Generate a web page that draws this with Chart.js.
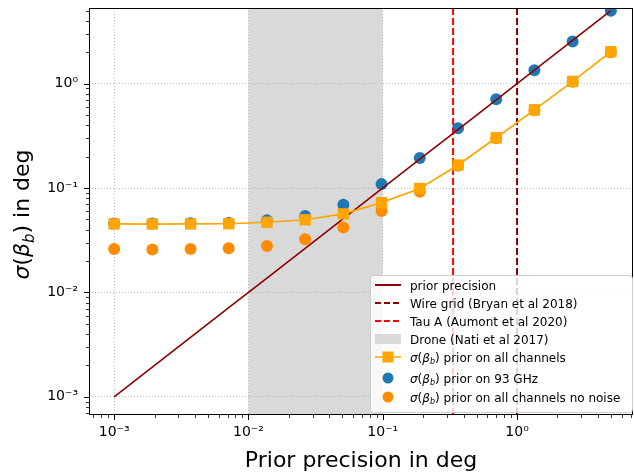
<!DOCTYPE html>
<html>
<head>
<meta charset="UTF-8">
<title>Prior precision</title>
<script src="https://cdn.jsdelivr.net/npm/chart.js"></script>
<style>
    html, body { margin: 0; padding: 0; background: white; }
    .wrap { width: 634px; height: 472px; }
</style>
</head>
<body>
<div class="wrap"><canvas id="c"></canvas></div>
<script>
// values
const priorPrecision = [0.001, 0.001925, 0.003706, 0.007135, 0.01374, 0.02645, 0.05092, 0.09803, 0.1887, 0.3634, 0.6996, 1.347, 2.593, 4.993];
const sigmaAll = [0.0453, 0.0452, 0.0453, 0.0455, 0.047, 0.0497, 0.0565, 0.0724, 0.099, 0.166, 0.303, 0.561, 1.05, 2.02];
const sigma93 = [0.0458, 0.0458, 0.0459, 0.0462, 0.049, 0.054, 0.069, 0.109, 0.194, 0.374, 0.708, 1.34, 2.53, 4.98];
const sigmaNoNoise = [0.026, 0.0258, 0.026, 0.0265, 0.0279, 0.0323, 0.0418, 0.0603, 0.092, 0.163, 0.300, 0.555, 1.04, 2.0];
const wireGrid = 1.0;
const tauA = 0.334;
const droneRange = [0.01, 0.1];
const xRange = [6.5e-4, 7.3];
const yRange = [6.7e-4, 5.3];

const FONT = '"DejaVu Sans"';
const supMap = {'-': '\u207B', '0': '\u2070', '1': '\u00B9', '2': '\u00B2', '3': '\u00B3'};
function powLabel(v) {
    const e = Math.round(Math.log10(v));
    return '10' + String(e).split('').map(c => supMap[c] || c).join('');
}

function logTicks(min, max) {
    const out = [];
    for (let e = Math.floor(Math.log10(min)); e <= Math.ceil(Math.log10(max)); e++) {
        for (let m = 1; m < 10; m++) {
            const v = m * Math.pow(10, e);
            if (v >= min && v <= max) out.push({ value: v, major: m === 1 });
        }
    }
    return out;
}

function pts(xs, ys) { return xs.map((x, i) => ({ x: x, y: ys[i] })); }

// sigma(beta_b) in mathtext style, returns width
function drawSigma(ctx, x, y, size, measureOnly) {
    const parts = [
        ['\u03C3', 'italic ' + size + 'px ' + FONT, 0],
        ['(', size + 'px ' + FONT, 0],
        ['\u03B2', 'italic ' + size + 'px ' + FONT, 0],
        ['b', 'italic ' + Math.round(size * 0.7) + 'px ' + FONT, size * 0.22],
        [')', size + 'px ' + FONT, 0]
    ];
    let w = 0;
    parts.forEach(p => {
        ctx.font = p[1];
        if (!measureOnly) ctx.fillText(p[0], x + w, y + p[2]);
        w += ctx.measureText(p[0]).width;
    });
    return w;
}

const legendItems = [
    { kind: 'line', color: '#8b0000', dash: [], text: 'prior precision' },
    { kind: 'line', color: '#8b0000', dash: [6, 3], text: 'Wire grid (Bryan et al 2018)' },
    { kind: 'line', color: '#ff0000', dash: [6, 3], text: 'Tau A (Aumont et al 2020)' },
    { kind: 'patch', color: '#d9d9d9', text: 'Drone (Nati et al 2017)' },
    { kind: 'square', color: '#ffa500', math: true, text: ' prior on all channels' },
    { kind: 'dot', color: '#1f77b4', math: true, text: ' prior on 93 GHz' },
    { kind: 'dot', color: '#ff8c00', math: true, text: ' prior on all channels no noise' }
];
const legendRows = [285, 303, 321, 339, 357, 378, 397];

const extras = {
    id: 'extras',
    beforeDraw(chart) {
        const ctx = chart.ctx, a = chart.chartArea, xs = chart.scales.x;
        ctx.save();
        ctx.fillStyle = '#d9d9d9';
        const x0 = xs.getPixelForValue(droneRange[0]), x1 = xs.getPixelForValue(droneRange[1]);
        ctx.fillRect(x0, a.top, x1 - x0, a.bottom - a.top);
        ctx.restore();
    },
    afterDatasetsDraw(chart) {
        const ctx = chart.ctx, a = chart.chartArea;
        const xs = chart.scales.x, ys = chart.scales.y;
        ctx.save();
        // spines
        ctx.strokeStyle = '#000';
        ctx.lineWidth = 1;
        ctx.strokeRect(a.left + 0.5, a.top + 0.5, a.right - a.left - 1, a.bottom - a.top - 1);
        // tick marks
        xs.ticks.forEach(t => {
            const px = Math.round(xs.getPixelForValue(t.value)) + 0.5;
            ctx.beginPath();
            ctx.moveTo(px, a.bottom);
            ctx.lineTo(px, a.bottom + (t.major ? 5 : 3));
            ctx.lineWidth = t.major ? 1 : 0.8;
            ctx.stroke();
        });
        ys.ticks.forEach(t => {
            const py = Math.round(ys.getPixelForValue(t.value)) + 0.5;
            ctx.beginPath();
            ctx.moveTo(a.left, py);
            ctx.lineTo(a.left - (t.major ? 5 : 3), py);
            ctx.lineWidth = t.major ? 1 : 0.8;
            ctx.stroke();
        });

        // axis titles
        ctx.fillStyle = '#000';
        ctx.textBaseline = 'alphabetic';
        ctx.font = '22px ' + FONT;
        ctx.textAlign = 'center';
        ctx.fillText('Prior precision in deg', (a.left + a.right) / 2, 467);
        ctx.textAlign = 'left';
        ctx.save();
        ctx.translate(29, (a.top + a.bottom) / 2 + 3);
        ctx.rotate(-Math.PI / 2);
        const sw = drawSigma(ctx, 0, 0, 22, true);
        ctx.font = '22px ' + FONT;
        const tw = ctx.measureText(' in deg').width;
        const start = -(sw + tw) / 2;
        drawSigma(ctx, start, 0, 22, false);
        ctx.font = '22px ' + FONT;
        ctx.fillText(' in deg', start + sw, 0);
        ctx.restore();

        // legend
        const bx = 370, by = 275, bw = 262, bh = 137;
        ctx.beginPath();
        ctx.roundRect(bx + 0.5, by + 0.5, bw, bh, 3);
        ctx.fillStyle = 'rgba(255,255,255,0.8)';
        ctx.fill();
        ctx.strokeStyle = '#cccccc';
        ctx.lineWidth = 1;
        ctx.stroke();
        legendItems.forEach((it, i) => {
            const cy = legendRows[i];
            const hx0 = 375, hx1 = 401, hc = (hx0 + hx1) / 2;
            ctx.save();
            if (it.kind === 'line' || it.kind === 'square') {
                ctx.strokeStyle = it.color;
                ctx.lineWidth = it.kind === 'square' ? 1.5 : 2;
                ctx.setLineDash(it.dash || []);
                ctx.beginPath();
                ctx.moveTo(hx0, cy);
                ctx.lineTo(hx1, cy);
                ctx.stroke();
                if (it.kind === 'square') {
                    ctx.fillStyle = it.color;
                    ctx.fillRect(hc - 5.5, cy - 5.5, 11, 11);
                }
            } else if (it.kind === 'patch') {
                ctx.fillStyle = it.color;
                ctx.fillRect(hx0, cy - 5, hx1 - hx0, 10);
            } else {
                ctx.fillStyle = it.color;
                ctx.beginPath();
                ctx.arc(hc, cy, 5.5, 0, Math.PI * 2);
                ctx.fill();
            }
            ctx.restore();
            ctx.fillStyle = '#000';
            ctx.textAlign = 'left';
            let tx = 410;
            const base = cy + 4.5;
            if (it.math) tx += drawSigma(ctx, tx, base, 12, false);
            ctx.font = '12px ' + FONT;
            ctx.fillText(it.text, tx, base);
        });
        ctx.restore();
    }
};

function noPad(s) {
    s.paddingTop = 0; s.paddingBottom = 0; s.paddingLeft = 0; s.paddingRight = 0;
}

function axisCommon(range, fitFn) {
    return {
        type: 'logarithmic',
        min: range[0],
        max: range[1],
        afterBuildTicks: s => { s.ticks = logTicks(range[0], range[1]); },
        afterFit: s => { fitFn(s); noPad(s); },
        grid: {
            drawTicks: false,
            lineWidth: 0.8,
            color: c => (c.tick && c.tick.major) ? '#b0b0b0' : 'rgba(0,0,0,0)'
        },
        border: { display: false, dash: [1, 2] },
        ticks: {
            autoSkip: false,
            maxRotation: 0,
            color: '#000',
            font: { family: 'DejaVu Sans', size: 14 },
            callback: (v, i, ticks) => ticks[i].major ? powLabel(v) : ''
        }
    };
}

const xAxis = axisCommon(xRange, s => { s.height = 57; });
xAxis.ticks.padding = 9;
const yAxis = axisCommon(yRange, s => { s.width = 89; });
yAxis.ticks.padding = 11;

new Chart(document.getElementById('c'), {
    type: 'line',
    data: {
        datasets: [
            {
                label: 'sigma prior on all channels',
                data: pts(priorPrecision, sigmaAll),
                borderColor: '#ffa500', backgroundColor: '#ffa500',
                borderWidth: 1.7, pointStyle: 'rect', pointRadius: 8, pointBorderWidth: 0,
                order: 1
            },
            {
                label: 'prior precision',
                data: pts(priorPrecision, priorPrecision),
                borderColor: '#8b0000', borderWidth: 1.6, pointRadius: 0,
                order: 2
            },
            {
                label: 'Wire grid (Bryan et al 2018)',
                data: [{ x: wireGrid, y: yRange[0] }, { x: wireGrid, y: yRange[1] }],
                borderColor: '#8b0000', borderWidth: 2, borderDash: [7, 3], pointRadius: 0,
                order: 3
            },
            {
                label: 'Tau A (Aumont et al 2020)',
                data: [{ x: tauA, y: yRange[0] }, { x: tauA, y: yRange[1] }],
                borderColor: '#ff0000', borderWidth: 2, borderDash: [7, 3], pointRadius: 0,
                order: 3
            },
            {
                label: 'sigma prior on 93 GHz',
                data: pts(priorPrecision, sigma93),
                showLine: false, backgroundColor: '#1f77b4', borderColor: '#1f77b4',
                pointRadius: 6, pointBorderWidth: 0,
                order: 4
            },
            {
                label: 'sigma prior on all channels no noise',
                data: pts(priorPrecision, sigmaNoNoise),
                showLine: false, backgroundColor: '#ff8c00', borderColor: '#ff8c00',
                pointRadius: 6, pointBorderWidth: 0,
                order: 5
            }
        ]
    },
    options: {
        responsive: true,
        maintainAspectRatio: false,
        animation: false,
        devicePixelRatio: 1,
        layout: { autoPadding: false, padding: { top: 8, right: 1, left: 0, bottom: 0 } },
        plugins: { legend: { display: false }, tooltip: { enabled: false } },
        scales: { x: xAxis, y: yAxis }
    },
    plugins: [extras]
});
</script>
</body>
</html>
